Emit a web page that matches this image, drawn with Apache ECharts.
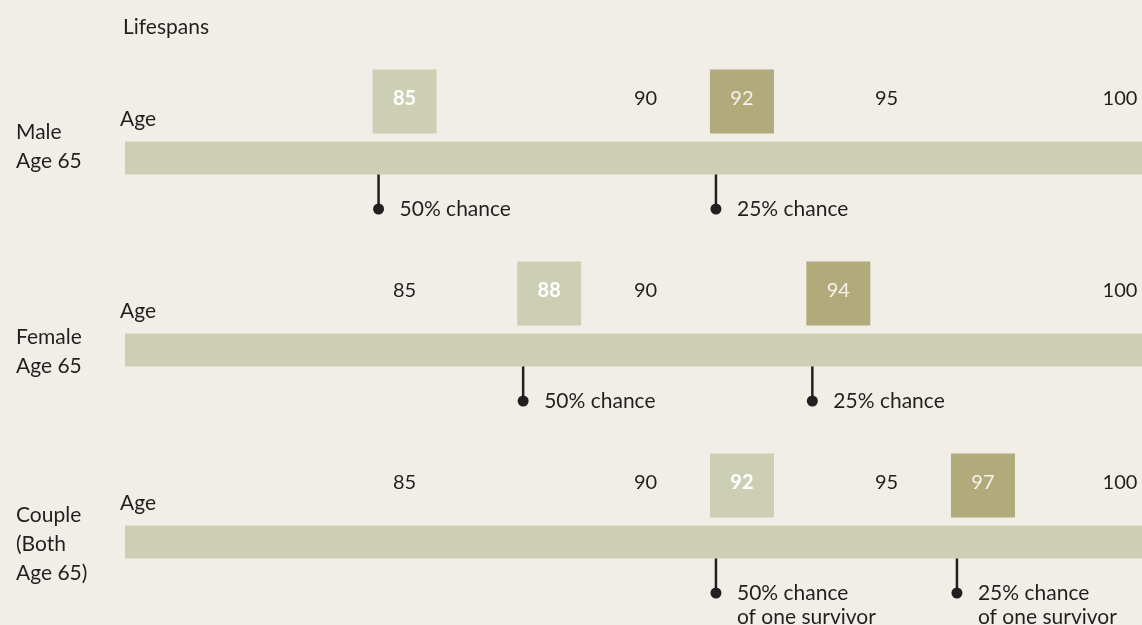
<!DOCTYPE html>
<html>
<head>
<meta charset="utf-8">
<script src="https://cdn.jsdelivr.net/npm/echarts@6/dist/echarts.min.js"></script>
<style>
  html, body { margin: 0; padding: 0; background: #f1eee7; }
  #main { width: 1142px; height: 625px; }
</style>
</head>
<body>
<div id="main"></div>
<script>
// rows of the chart
var rowNames = ['Male\nAge 65', 'Female\nAge 65', 'Couple\n(Both\nAge 65)'];
// plain age labels shown above each bar
var rowTicks = [[90, 95, 100], [85, 90, 100], [85, 90, 95, 100]];
// 50% and 25% chance ages
var fiftyAge = [85, 88, 92];
var quarterAge = [92, 94, 97];
var fiftyText = ['50% chance', '50% chance', '50% chance\nof one survivor'];
var quarterText = ['25% chance', '25% chance', '25% chance\nof one survivor'];

var FONT = 'Lato, "Open Sans", sans-serif';
var TEXT_COLOR = '#231f20';
var BAR_COLOR = '#cdcfb4';
var DARK_BOX = '#b1aa7b';

var chart = echarts.init(document.getElementById('main'));

function textEl(txt, x, y, opt) {
  opt = opt || {};
  return {
    type: 'text',
    style: {
      text: txt,
      x: x,
      y: y,
      fill: opt.fill || TEXT_COLOR,
      font: (opt.weight || 'normal') + ' ' + (opt.size || 21) + 'px ' + FONT,
      align: opt.align || 'left',
      verticalAlign: opt.va || 'middle',
      lineHeight: opt.lineHeight || 24
    }
  };
}

function renderRow(params, api) {
  var i = api.value(1);
  var cs = params.coordSys;
  var cy = api.coord([85, i])[1];
  var half = 16.5;
  var els = [];

  // row name on the left (the male label sits a bit higher)
  els.push(textEl(rowNames[i], 16, cy + (i === 0 ? -11.5 : 2), { lineHeight: 29 }));

  els.push({
    type: 'rect',
    shape: { x: cs.x, y: cy - half, width: cs.width, height: half * 2 },
    style: { fill: BAR_COLOR }
  });
  els.push(textEl('Age', cs.x - 5, cy - 39));

  rowTicks[i].forEach(function (t) {
    var x = Math.min(api.coord([t, i])[0], cs.x + cs.width - 22);
    els.push(textEl(String(t), x, cy - 59, { align: 'center', size: 20 }));
  });

  var marks = [
    { age: api.value(0), fill: BAR_COLOR, txtFill: '#ffffff', weight: 'bold', label: fiftyText[i] },
    { age: api.value(2), fill: DARK_BOX, txtFill: '#f6f3ec', weight: 'normal', label: quarterText[i] }
  ];
  marks.forEach(function (m) {
    var x = api.coord([m.age, i])[0];
    els.push({
      type: 'rect',
      shape: { x: x - 32, y: cy - half - 8 - 64, width: 64, height: 64 },
      style: { fill: m.fill }
    });
    els.push(textEl(String(m.age), x, cy - 59, { align: 'center', size: 20, fill: m.txtFill, weight: m.weight }));

    var px = x - 26;
    var dotY = cy + 51;
    els.push({
      type: 'line',
      shape: { x1: px, y1: cy + half, x2: px, y2: dotY },
      style: { stroke: TEXT_COLOR, lineWidth: 2.5 }
    });
    els.push({
      type: 'circle',
      shape: { cx: px, cy: dotY, r: 5.5 },
      style: { fill: TEXT_COLOR }
    });
    els.push(textEl(m.label, px + 21, dotY - 12, { va: 'top', lineHeight: 24 }));
  });

  return { type: 'group', children: els };
}

var option = {
  backgroundColor: '#f1eee7',
  animation: false,
  title: {
    text: 'Lifespans',
    left: 118,
    top: 12,
    textStyle: { fontFamily: FONT, fontSize: 21, fontWeight: 'normal', color: TEXT_COLOR }
  },
  grid: { left: 125, right: 0, top: 62, height: 576, outerBoundsMode: 'none', containLabel: false },
  xAxis: { type: 'value', min: 79.2, max: 100.3, show: false },
  yAxis: {
    type: 'category',
    inverse: true,
    data: rowNames,
    axisLine: { show: false },
    axisTick: { show: false },
    splitLine: { show: false },
    axisLabel: { show: false }
  },
  series: [{
    type: 'custom',
    renderItem: renderRow,
    encode: { x: 0, y: 1 },
    data: rowNames.map(function (r, i) { return [fiftyAge[i], i, quarterAge[i]]; })
  }]
};

chart.setOption(option);
</script>
</body>
</html>
